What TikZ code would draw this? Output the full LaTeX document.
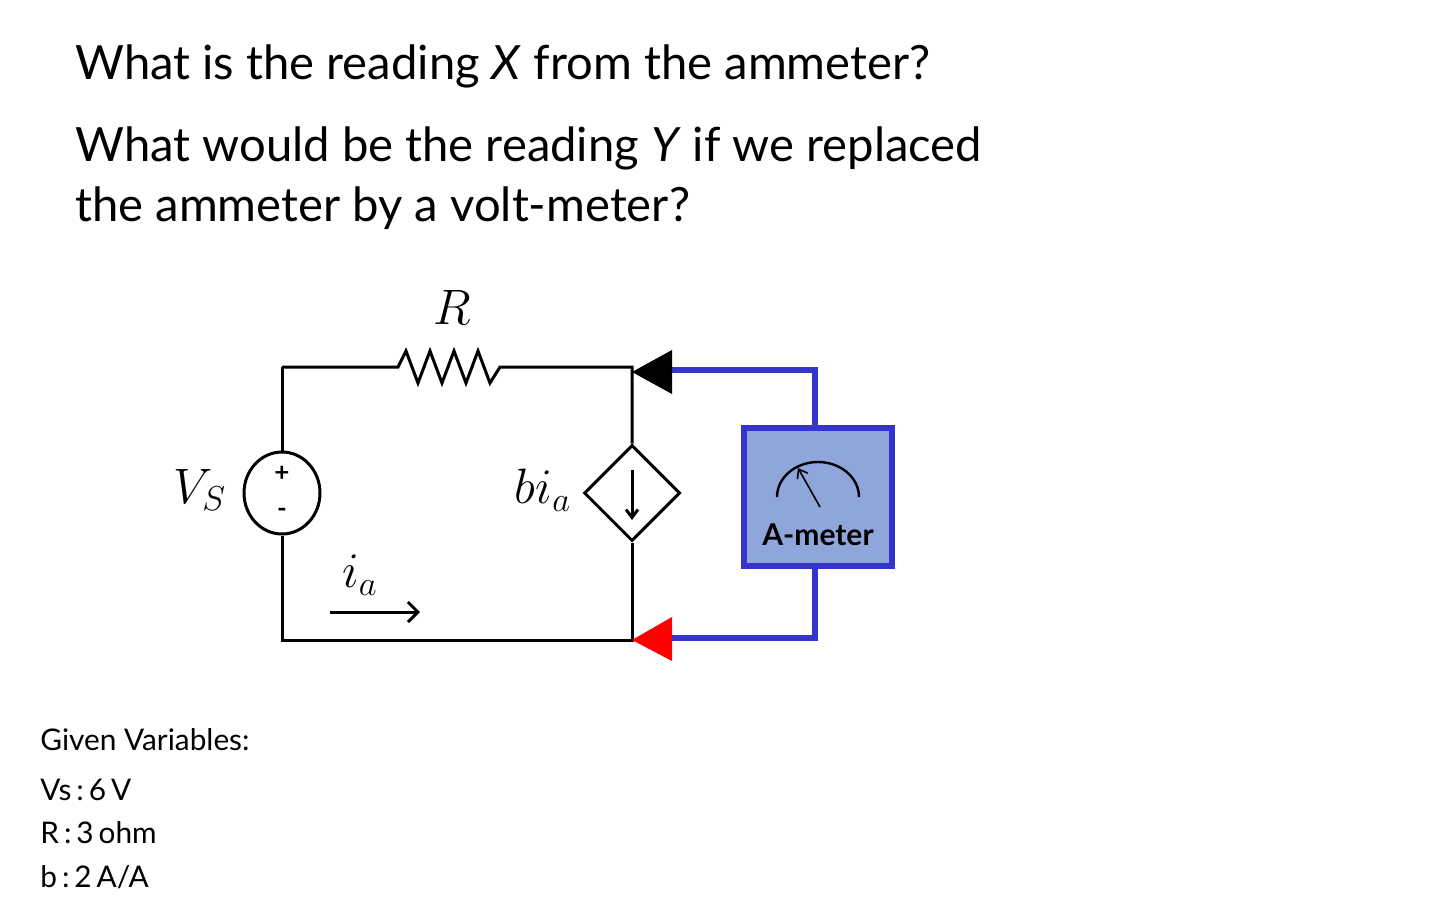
\documentclass[tikz,border=0pt]{standalone}
\usepackage{fontspec}
\setmainfont{Lato}
\usetikzlibrary{arrows.meta,shapes.geometric}
\definecolor{wireblue}{HTML}{3535CC}
\definecolor{boxfill}{HTML}{8FA6DA}
\tikzset{
  wire/.style={line width=1.5pt,black},
  bwire/.style={line width=3pt,wireblue},
  q/.style={anchor=west,inner sep=0pt,font=\fontsize{23.6}{28}\selectfont},
  gv/.style={anchor=west,inner sep=0pt,font=\fontsize{14.9}{18}\selectfont},
  mth/.style={inner sep=0pt,font=\fontsize{24}{28}\selectfont}
}
\begin{document}
\begin{tikzpicture}[x=0.5pt,y=-0.5pt]
\useasboundingbox (0,0) rectangle (1430,904);
\node[q] (t1) at (75,66) {What is the reading \textit{X} from the ammeter?};
\node[q] (t2) at (75,148) {What would be the reading \textit{Y} if we replaced};
\node[q] (t3) at (75,208) {the ammeter by a volt-meter?};
\node[gv] (g0) at (40,740) {Given Variables:};
\node[gv] (g1) at (40,790) {Vs\,:\,6\,V};
\node[gv] (g2) at (40,833) {R\,:\,3\,ohm};
\node[gv] (g3) at (40,877) {b\,:\,2\,A/A};
% nodes
\coordinate (tl) at (282,367);
\coordinate (bl) at (282,640);
\coordinate (tr) at (632,367);
\coordinate (br) at (632,640);
\coordinate (r1) at (398,367);
\coordinate (r2) at (500,367);
\node[draw,ellipse,line width=1.5pt,minimum width=38pt,minimum height=41pt,inner sep=0pt] (vs) at (282,493) {};
\node[inner sep=0pt,font=\bfseries\fontsize{13}{13}\selectfont] (vp) at (282,474) {+};
\node[inner sep=0pt,font=\bfseries\fontsize{13}{13}\selectfont] (vm) at (282,513) {-};
\node[draw,diamond,line width=1.5pt,minimum width=48pt,minimum height=48pt,inner sep=0pt,shape aspect=1] (cs) at (632,493) {};
\draw[wire,-{Straight Barb[length=4pt,width=6pt]}] (632,470) -- (632,520);
\draw[wire] (tl) -- (r1) -- ++(8,-16) -- ++(12,32) -- ++(12,-32) -- ++(12,32) -- ++(12,-32) -- ++(12,32) -- ++(12,-32) -- ++(12,32) -- (r2) -- (tr) -- (cs.north);
\draw[wire] (tl) -- (vs.north);
\draw[wire] (vs.south) -- (bl) -- (br) -- (cs.south);
\node[mth] (lR) at (452,307) {$R$};
\node[mth] (lVs) at (200,490) {$V_S$};
\node[mth] (lbi) at (543,490) {$bi_a$};
\node[mth] (lia) at (360,575) {$i_a$};
\draw[wire,-{Straight Barb[length=5pt,width=10pt]}] (330,612) -- (420,612);
% ammeter
\node[draw=wireblue,fill=boxfill,line width=3pt,minimum width=74pt,minimum height=69pt,inner sep=0pt] (am) at (818,497) {};
\node[inner sep=0pt,font=\bfseries\fontsize{15}{15}\selectfont] (amt) at (818,535) {A-meter};
\draw[line width=1.2pt] (777,497) arc[start angle=180,end angle=360,x radius=41,y radius=35];
\draw[line width=0.8pt,-{Straight Barb[length=4pt,width=6pt]}] (820,507) -- (798,468);
\draw[bwire] (672,370) -- (815,370) -- (am.north -| 815,0);
\draw[bwire] (am.south -| 815,0) -- (815,638) -- (672,638);
\fill[black] (632,372) -- (672,350) -- (672,394) -- cycle;
\fill[red] (632,640) -- (672,617) -- (672,661) -- cycle;
\end{tikzpicture}
\end{document}
